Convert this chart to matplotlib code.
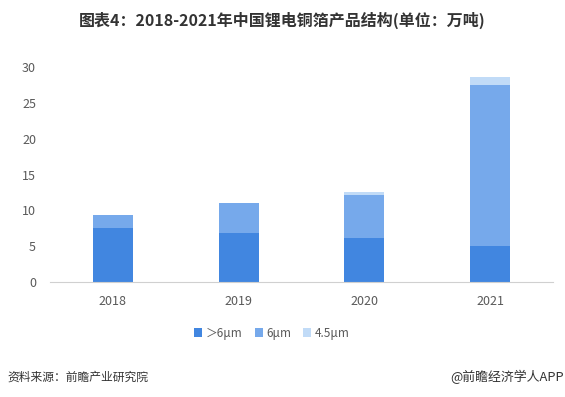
import matplotlib.pyplot as plt
import numpy as np

plt.rcParams['font.family'] = ['Noto Sans CJK SC', 'DejaVu Sans']

# data (万吨)
years = ['2018', '2019', '2020', '2021']
above_6um = [7.55, 6.85, 6.15, 5.05]
um_6 = [1.8, 4.2, 6.0, 22.45]
um_4_5 = [0.0, 0.0, 0.4, 1.05]
series_names = ['＞6μm', '6μm', '4.5μm']
colors = ['#4186e0', '#76a9eb', '#c1dbf7']

fig = plt.figure(figsize=(5.65, 3.97), dpi=100)
ax = fig.add_axes([50 / 565, 1 - 282.3 / 397, 503 / 565, 215.6 / 397])

x = np.arange(len(years))
bottom = np.zeros(len(years))
handles = []
for vals, name, c in zip([above_6um, um_6, um_4_5], series_names, colors):
    b = ax.bar(x, vals, width=0.32, bottom=bottom, color=c, label=name)
    handles.append(b)
    bottom += np.array(vals)

ax.set_xlim(-0.5, 3.5)
ax.set_ylim(0, 30)
ax.set_yticks([0, 5, 10, 15, 20, 25, 30])
ax.set_xticks(x)
ax.set_xticklabels(years)
for s in ['top', 'right', 'left']:
    ax.spines[s].set_visible(False)
ax.spines['bottom'].set_color('#d0d0d0')
ax.tick_params(axis='both', length=0, labelsize=9, colors='#595959')
ax.tick_params(axis='y', pad=10)
ax.tick_params(axis='x', pad=9)

fig.text(0.5, 1 - 20 / 397, '图表4：2018-2021年中国锂电铜箔产品结构(单位：万吨)',
         ha='center', va='center', fontsize=11.5, fontweight='bold', color='#333333')

fig.legend(handles=handles, loc='center', bbox_to_anchor=(272 / 565, 1 - 333 / 397),
           ncol=3, frameon=False, fontsize=8.5, handlelength=0.7, handleheight=0.7,
           handletextpad=0.3, columnspacing=1.0, labelcolor='#595959')

fig.text(7 / 565, 1 - 377 / 397, '资料来源：前瞻产业研究院', ha='left', va='center',
         fontsize=8.5, color='#333333')
fig.text(564 / 565, 1 - 377 / 397, '@前瞻经济学人APP', ha='right', va='center',
         fontsize=9.3, color='#333333')

fig.savefig('out.png', dpi=100)
